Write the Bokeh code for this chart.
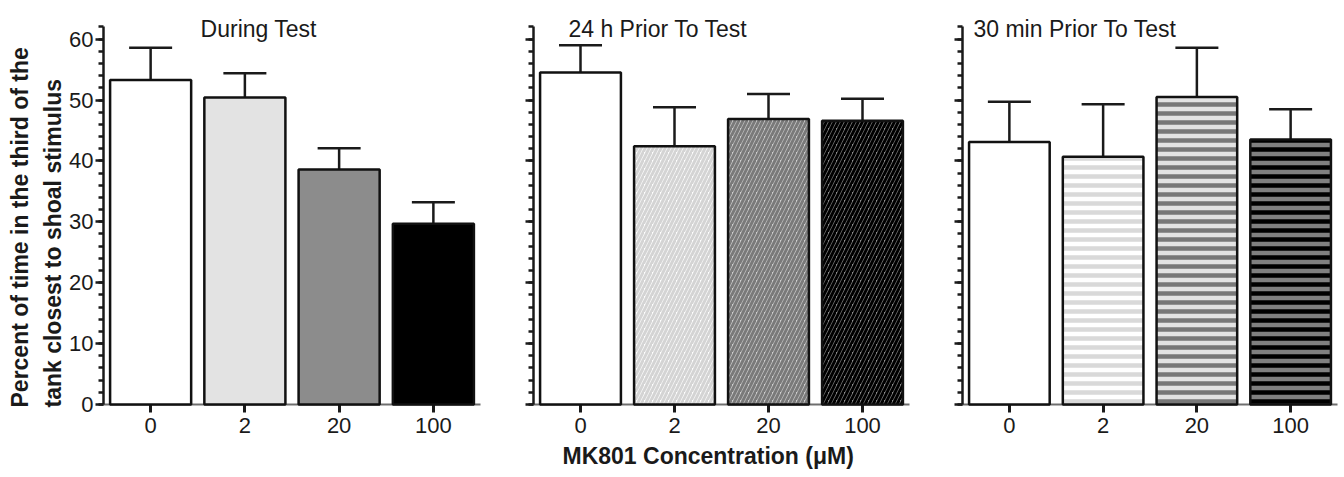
from bokeh.plotting import figure
from bokeh.models import (ColumnDataSource, FactorRange, Range1d, SingleIntervalTicker,
                          Whisker, TeeHead, Label, Title)
from bokeh.layouts import row
from bokeh.embed import file_html
from bokeh.resources import INLINE

# ---------------- data ----------------
concentrations = ["0", "2", "20", "100"]

during_mean = [53.3, 50.4, 38.6, 29.7]
during_sem = [5.3, 4.0, 3.5, 3.5]

prior24_mean = [54.5, 42.4, 46.9, 46.6]
prior24_sem = [4.5, 6.4, 4.1, 3.6]

prior30_mean = [43.1, 40.7, 50.5, 43.5]
prior30_sem = [6.6, 8.6, 8.1, 5.0]

panel_titles = ["During Test", "24 h Prior To Test", "30 min Prior To Test"]
y_label_lines = ["Percent of time in the third of the", "tank closest to shoal stimulus"]
x_label = "MK801 Concentration (\u03bcM)"

# ---------------- styles ----------------
FONT = "Liberation Sans"
INK = "#1a1a1a"
Y_END = 64.7
FIG_H = 477


def make_panel(title, means, sems, fills, hatches, hatch_colors, hatch_scale, hatch_weight,
               width, border_left, border_right, show_labels, title_x):
    p = figure(x_range=FactorRange(*concentrations, range_padding=0),
               y_range=Range1d(0, Y_END),
               width=width, height=FIG_H,
               min_border_left=border_left, min_border_right=border_right,
               min_border_top=10, min_border_bottom=73,
               output_backend="svg", toolbar_location=None, tools="")
    p.outline_line_color = None
    p.grid.visible = False
    p.background_fill_color = "white"
    p.border_fill_color = "white"

    # x axis
    xa = p.xaxis[0]
    xa.axis_line_color = "#6e6e6e"
    xa.axis_line_width = 2
    xa.major_tick_in = 0
    xa.major_tick_out = 8
    xa.major_tick_line_width = 3
    xa.major_tick_line_color = INK
    xa.major_label_text_font = FONT
    xa.major_label_text_font_size = "22px"
    xa.major_label_text_color = INK
    xa.major_label_standoff = 5

    # y axis
    ya = p.yaxis[0]
    ya.ticker = SingleIntervalTicker(interval=10, num_minor_ticks=5)
    ya.bounds = (0, 62)
    ya.axis_line_color = INK
    ya.axis_line_width = 2.5
    ya.major_tick_in = 0
    ya.major_tick_out = 8
    ya.minor_tick_in = 0
    ya.minor_tick_out = 5
    ya.major_tick_line_width = 2.5
    ya.minor_tick_line_width = 2.5
    ya.major_tick_line_color = INK
    ya.minor_tick_line_color = INK
    ya.major_label_text_font = FONT
    ya.major_label_text_font_size = "22px"
    ya.major_label_text_color = INK
    ya.major_label_standoff = 2
    if not show_labels:
        ya.major_label_overrides = {v: "" for v in range(0, 61, 10)}

    src = ColumnDataSource(dict(
        x=concentrations,
        top=means,
        upper=[m + s for m, s in zip(means, sems)],
        fill=fills,
        hatch=hatches,
        hcolor=hatch_colors,
    ))
    bars = p.vbar(x="x", top="top", width=0.86, source=src,
                  fill_color="fill", line_color="#111111", line_width=2.5,
                  hatch_pattern="hatch", hatch_color="hcolor",
                  hatch_scale=hatch_scale, hatch_weight=hatch_weight)
    bars.level = "overlay"

    w = Whisker(source=src, base="x", upper="upper", lower="top", dimension="height",
                line_color=INK, line_width=2.5,
                upper_head=TeeHead(size=43, line_width=2.5, line_color=INK),
                lower_head=None)
    p.add_layout(w)

    p.add_layout(Label(x=title_x, y=61.7, text=title, text_font=FONT,
                       text_font_size="23px", text_color=INK,
                       text_align="left", text_baseline="alphabetic"))
    return p


p1 = make_panel(panel_titles[0], during_mean, during_sem,
                ["#ffffff", "#e3e3e3", "#8c8c8c", "#000000"],
                [" ", " ", " ", " "],
                ["#ffffff"] * 4, 7, 2.5,
                width=500, border_left=103, border_right=20, show_labels=True, title_x=1.03)

p2 = make_panel(panel_titles[1], prior24_mean, prior24_sem,
                ["#ffffff", "#ffffff", "#cfcfcf", "#8f8f8f"],
                [" ", "/", "/", "/"],
                ["#ffffff", "#d4d4d4", "#7a7a7a", "#000000"], 8, 3,
                width=430, border_left=33, border_right=21, show_labels=False, title_x=0.372)

p3 = make_panel(panel_titles[2], prior30_mean, prior30_sem,
                ["#ffffff", "#ffffff", "#e2e2e2", "#808080"],
                [" ", "-", "-", "-"],
                ["#ffffff", "#d9d9d9", "#777777", "#000000"], 9, 4.5,
                width=414, border_left=32, border_right=7, show_labels=False, title_x=0.117)

# y-axis title: two vertical lines on the left of panel 1 (nearest first)
p1.add_layout(Title(text=y_label_lines[1], align="left", offset=-3, standoff=2,
                    text_font=FONT, text_font_size="23px", text_font_style="bold",
                    text_color=INK), "left")
p1.add_layout(Title(text=y_label_lines[0], align="left", offset=-3, standoff=8,
                    text_font=FONT, text_font_size="23px", text_font_style="bold",
                    text_color=INK), "left")

# shared x-axis title under the middle panel
p2.add_layout(Title(text=x_label, align="left", offset=29, standoff=10,
                    text_font=FONT, text_font_size="23px", text_font_style="bold",
                    text_color=INK), "below")

layout = row(p1, p2, p3)
open("out.html", "w").write(file_html(layout, INLINE))
